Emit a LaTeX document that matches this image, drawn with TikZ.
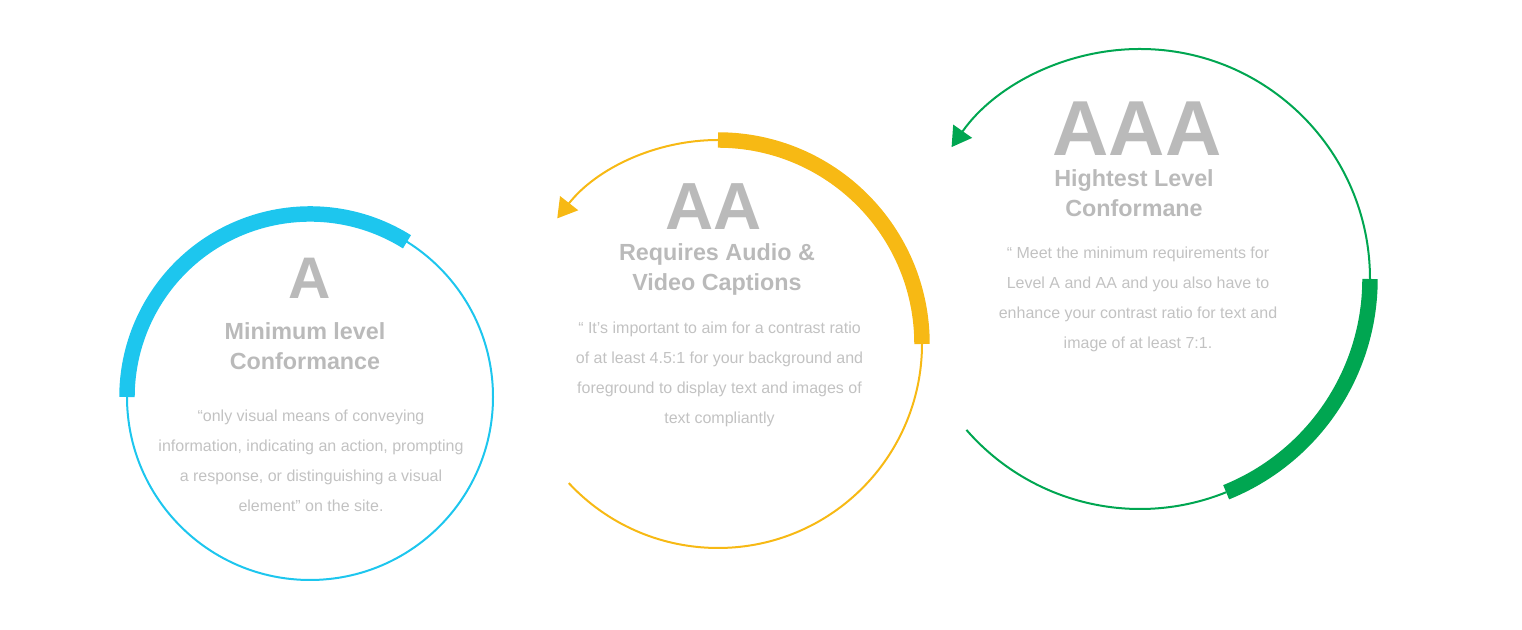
\documentclass[tikz,border=0pt]{standalone}
\usepackage{fontspec}
\setmainfont{Liberation Sans}
\usetikzlibrary{arrows.meta}

\definecolor{levelA}{RGB}{29,198,238}
\definecolor{levelAA}{RGB}{247,185,20}
\definecolor{levelAAA}{RGB}{0,166,81}
\definecolor{titlegray}{RGB}{186,186,186}
\definecolor{bodygray}{RGB}{194,194,194}

\begin{document}
\begin{tikzpicture}[x = 0.75pt, y = 0.75pt,
        thinarc/.style = {line width = 1.5pt},
        thickarc/.style = {line width = 11.6pt},
        tip/.style = {-{Triangle[length = 14.5pt, width = 17pt]}},
        bigletter/.style = {text = titlegray, anchor = base, inner sep = 0pt,
            font = \bfseries\fontsize{#1}{#1}\selectfont},
        subtitle/.style = {text = titlegray, anchor = base, inner sep = 0pt, align = center,
            font = \bfseries\fontsize{17.5}{22.5}\selectfont},
        bodytext/.style = {text = bodygray, anchor = base, inner sep = 0pt, align = center,
            font = \fontsize{12}{22.5}\selectfont}]
        \useasboundingbox (0,0) rectangle (1522,630);

        % level A (base of a node is its last line)
        \coordinate (cA) at (310,233);
        \draw[thinarc, levelA] (cA) circle[radius = 183];
        \draw[thickarc, levelA] ([shift = {(58:183)}]cA) arc[start angle = 58, end angle = 180, radius = 183];
        \node[bigletter = 44] (letterA) at (310,331) {A};
        \node[subtitle] (subA) at (305,260) {Minimum level\\Conformance};
        \node[bodytext] (textA) at (311,118.5) {“only visual means of conveying\\information, indicating an action, prompting\\a response, or distinguishing a visual\\element” on the site.};

        % level AA
        \coordinate (cAA) at (718,286);
        \draw[thinarc, levelAA, tip] ([shift = {(90:204)}]cAA) arc[start angle = 90, end angle = 142, radius = 204];
        \draw[thinarc, levelAA] ([shift = {(223:204)}]cAA) arc[start angle = 223, end angle = 360, radius = 204];
        \draw[thickarc, levelAA] ([shift = {(0:204)}]cAA) arc[start angle = 0, end angle = 90, radius = 204];
        \node[bigletter = 50] (letterAA) at (714,400.5) {AA};
        \node[subtitle] (subAA) at (717,339) {Requires Audio \&\\Video Captions};
        \node[bodytext] (textAA) at (719.5,206.5) {“ It’s important to aim for a contrast ratio\\of at least 4.5:1 for your background and\\foreground to display text and images of\\text compliantly};

        % level AAA
        \coordinate (cAAA) at (1140,351);
        \draw[thinarc, levelAAA, tip] ([shift = {(0:230)}]cAAA) arc[start angle = 0, end angle = 145, radius = 230];
        \draw[thinarc, levelAAA] ([shift = {(221:230)}]cAAA) arc[start angle = 221, end angle = 292, radius = 230];
        \draw[thickarc, levelAAA] ([shift = {(-68:230)}]cAAA) arc[start angle = -68, end angle = 0, radius = 230];
        \node[bigletter = 58.5] (letterAAA) at (1137,474) {AAA};
        \node[subtitle] (subAAA) at (1134,413.5) {Hightest Level\\Conformane};
        \node[bodytext] (textAAA) at (1138,281.5) {“ Meet the minimum requirements for\\Level A and AA and you also have to\\enhance your contrast ratio for text and\\image of at least 7:1.};
    \end{tikzpicture}
\end{document}
